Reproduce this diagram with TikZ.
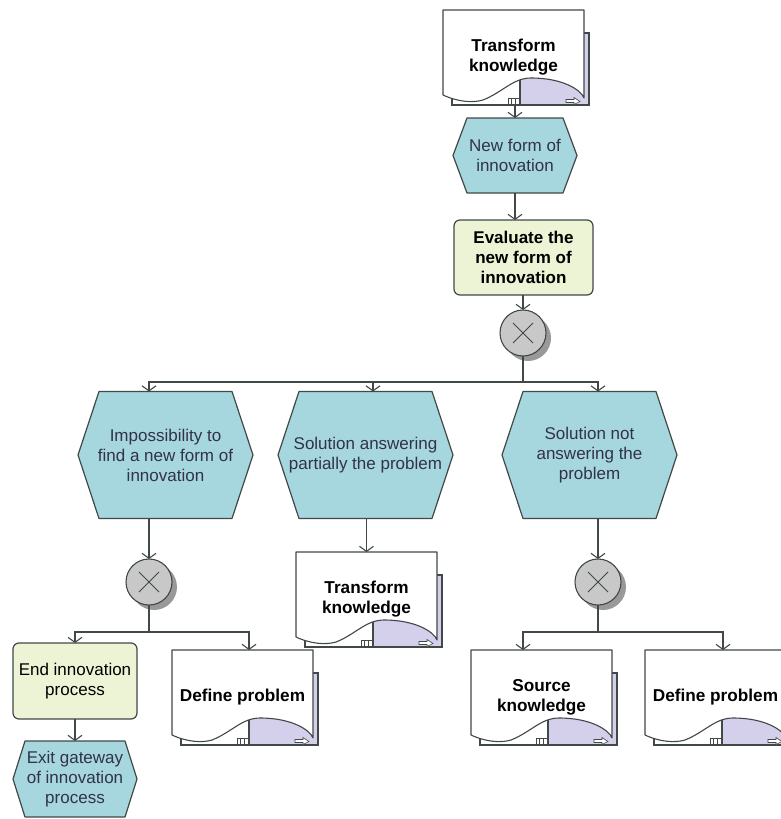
\documentclass[tikz,border=0pt]{standalone}
\usepackage{fontspec}
\setmainfont{Liberation Sans}
\usetikzlibrary{arrows.meta,shadows,backgrounds}

\definecolor{eventfill}{RGB}{166,214,222}
\definecolor{funcfill}{RGB}{236,244,213}
\definecolor{edgegray}{RGB}{64,72,72}
\definecolor{lilac}{RGB}{212,208,236}
\definecolor{xorfill}{RGB}{200,200,200}
\definecolor{textgray}{RGB}{50,50,72}

\tikzset{
  every node/.style={outer sep=0pt, align=center, font=\fontsize{17}{20}\selectfont},
  event/.style={text=textgray, inner sep=0pt},
  eventhex/.style={draw=edgegray, fill=eventfill, line width=1.2pt, line join=round},
  func/.style={draw=edgegray, fill=funcfill, line width=1.2pt, rounded corners=6pt, inner sep=0pt},
  docbox/.style={anchor=north west, minimum width=141pt, minimum height=95pt, inner sep=0pt,
    font=\fontsize{17.2}{20}\selectfont\bfseries},
  docline/.style={draw=edgegray, line width=1.1pt},
  xor/.style={circle, draw=edgegray, fill=xorfill, line width=1.1pt, minimum size=46pt,
    drop shadow={shadow xshift=5pt, shadow yshift=-5pt, fill=black!40, opacity=1},
    path picture={\draw[edgegray, line width=0.9pt] (path picture bounding box.center)
      +(-10pt,-10pt) -- +(10pt,10pt) +(-10pt,10pt) -- +(10pt,-10pt);}},
  link/.style={draw=edgegray, line width=1.1pt},
  flow/.style={link, -{Straight Barb[length=5pt,width=14pt,line width=1.1pt]}},
}

\begin{document}
\begin{tikzpicture}[x=1pt, y=-1pt]
\useasboundingbox (0,0) rectangle (781,819);

% top column
\node[docbox] (tk1) at (443,10) {Transform\\knowledge};
\node[event, minimum width=124pt, minimum height=75pt] (nf) at (515,155.5) {New form of\\innovation};
\node[func, minimum width=139pt, minimum height=75pt, font=\fontsize{17}{20}\selectfont\bfseries]
  (ev) at (523.5,257.5) {Evaluate the\\new form of\\innovation};
\node[xor] (x1) at (523,333) {};

% three events
\node[event, minimum width=175pt, minimum height=127pt] (h1) at (165.5,455) {Impossibility to\\find a new form of\\innovation};
\node[event, minimum width=175pt, minimum height=127pt] (h2) at (365.5,455) {Solution answering\\partially the problem};
\node[event, minimum width=175pt, minimum height=127pt] (h3) at (589.5,455) {Solution not\\answering the\\problem};

\node[xor] (x2) at (149,582) {};
\node[xor] (x3) at (598,582) {};
\node[docbox] (tk2) at (296,552) {Transform\\knowledge};

% bottom row
\node[func, minimum width=124pt, minimum height=76pt] (en) at (75,681) {End innovation\\process};
\node[event, minimum width=124pt, minimum height=76pt] (ex) at (75,779) {Exit gateway\\of innovation\\process};
\node[docbox] (dp1) at (172,650) {Define problem};
\node[docbox] (sk) at (471,650) {Source\\knowledge};
\node[docbox] (dp2) at (645,650) {Define problem};

\coordinate (j1) at (523,382);
\coordinate (j2) at (149,632);
\coordinate (j3) at (598,632);
\coordinate (h2in) at ([xshift=7.5pt]h2.north);

\draw[flow] (nf.north |- tk1.south) -- (nf.north);
\draw[flow] (nf.south) -- (nf.south |- ev.north);
\draw[flow] (x1.north |- ev.south) -- (x1.north);
\draw[link] (x1.south) -- (j1);
\draw[flow] (j1) -| ([xshift=-16.5pt]h1.north);
\draw[flow] (j1) -| ([xshift=8.5pt]h3.north);
\draw[flow] (h2in |- j1) -- (h2in);

\draw[flow] (x2.north |- h1.south) -- (x2.north);
\draw[link] (x2.south) -- (j2);
\draw[flow] (j2) -| (en.north);
\draw[flow] (j2) -| ([xshift=6.5pt]dp1.north);
\draw[flow] (en.south) -- (ex.north);

\draw[flow] (tk2.north |- h2.south) -- (tk2.north);

\draw[flow] (x3.north |- h3.south) -- (x3.north);
\draw[link] (x3.south) -- (j3);
\draw[flow] (j3) -| ([xshift=-18.5pt]sk.north);
\draw[flow] (j3) -| ([xshift=7.5pt]dp2.north);

\begin{scope}[on background layer]
  \foreach \n/\d in {nf/14,h1/21,h2/21,h3/21,ex/12}
    \draw[eventhex] (\n.west) -- ([xshift=\d pt]\n.north west) -- ([xshift=-\d pt]\n.north east)
      -- (\n.east) -- ([xshift=-\d pt]\n.south east) -- ([xshift=\d pt]\n.south west) -- cycle;
  \foreach \n in {tk1,tk2,dp1,sk,dp2} {
    \begin{scope}[shift={(\n.north west)}]
      \fill[white] (9,23) rectangle (146,95);
      \fill[lilac] (77,23) rectangle (146,95);
      \draw[docline] (9,23) rectangle (146,95);
      \draw[docline, fill=white, line join=round] (0,0) -- (141,0) -- (141,88)
        .. controls (138,80) and (120,68) .. (88,68)
        .. controls (70,68) and (60,82) .. (40,90)
        .. controls (30,93) and (15,92) .. (0,85) -- cycle;
      \draw[docline] (77,70) -- (77,95);
      \draw[edgegray, line width=0.5pt] (65,88.5) rectangle (76,94.5)
        (68.7,88.5) -- (68.7,94.5) (72.3,88.5) -- (72.3,94.5);
      \draw[edgegray, line width=0.6pt, fill=white] (123,89.5) -- (131,89.5) -- (131,87.5)
        -- (137,91.5) -- (131,94.5) -- (131,92.5) -- (123,92.5) -- cycle;
    \end{scope}
  }
\end{scope}
\end{tikzpicture}
\end{document}
